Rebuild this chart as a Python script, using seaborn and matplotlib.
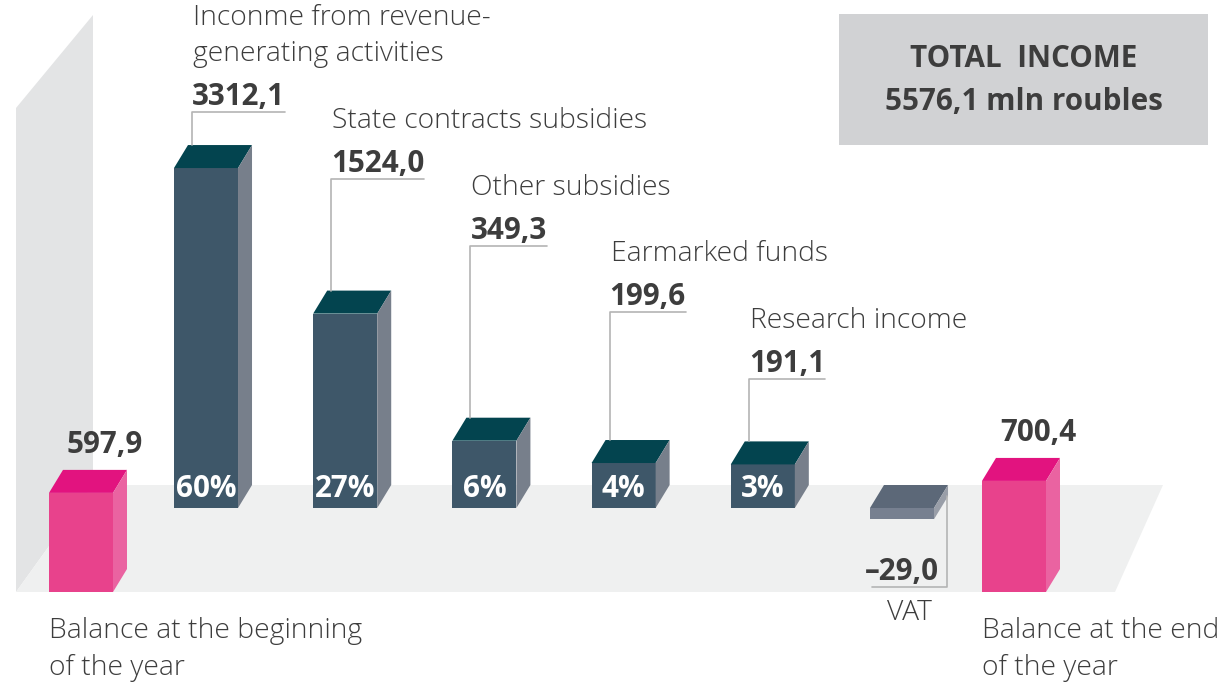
import numpy as np
import pandas as pd
import matplotlib
matplotlib.use('Agg')
import matplotlib.pyplot as plt
from matplotlib.patches import Polygon, Rectangle
import seaborn as sns

sns.set_style('white')
plt.rcParams['font.family'] = ['Open Sans', 'DejaVu Sans']

# --- data (mln roubles) ---
income_items = ['Inconme from revenue-\ngenerating activities', 'State contracts subsidies',
                'Other subsidies', 'Earmarked funds', 'Research income', 'VAT']
income_values = [3312.1, 1524.0, 349.3, 199.6, 191.1, -29.0]
income_shares = ['60%', '27%', '6%', '4%', '3%', '']
balance_items = ['Balance at the beginning\nof the year', 'Balance at the end\nof the year']
balance_values = [597.9, 700.4]
total_title = 'TOTAL  INCOME'
total_text = '5576,1 mln roubles'

# --- styles ---
W, H = 1222, 682
TXT = '#3d3d3d'
FS = 20.3    # regular labels
FSB = 21.3   # bold numbers
DX, DY = 14, 23  # depth of the fake 3d
back_front = ['#3e5769'] * 5 + ['#778090']
back_top = ['#03444f'] * 5 + ['#5c6878']
back_side = ['#777f8b'] * 5 + ['#999ea8']
pink_front, pink_top, pink_side = '#e8428c', '#e2137f', '#ea63a1'

# bars are not to scale in the original, a power scale gets close
P = 0.72
K = 0.993  # px per scaled unit


def fwd(v):
    return np.sign(v) * np.abs(v) ** P


def inv(t):
    return np.sign(t) * np.abs(t) ** (1 / P)


def fmt(v):
    return f'{v:.1f}'.replace('.', ',').replace('-', '–')


fig = plt.figure(figsize=(W / 100, H / 100), dpi=100)
ax_bg = fig.add_axes([0, 0, 1, 1], zorder=0)
ax_back = fig.add_axes([0, 0, 1, 1], zorder=1)
ax_front = fig.add_axes([0, 0, 1, 1], zorder=2)
ax_top = fig.add_axes([0, 0, 1, 1], zorder=3)
for a in (ax_bg, ax_top):
    a.set_xlim(0, W)
    a.set_ylim(H, 0)
for a in (ax_bg, ax_back, ax_front, ax_top):
    a.axis('off')
    a.set_facecolor('none')

# wall and floor
ax_bg.add_patch(Polygon([(16, 592), (16, 108), (93, 15), (93, 485)], color='#e3e4e5', lw=0))
ax_bg.add_patch(Polygon([(16, 592), (93, 485), (1163, 485), (1115, 592)], color='#eff0f0', lw=0))

back_df = pd.DataFrame({'item': income_items, 'value': income_values})
front_df = pd.DataFrame({'item': balance_items, 'value': balance_values})

sns.barplot(data=back_df, x='item', y='value', hue='item', palette=back_front, width=0.46,
            dodge=False, legend=False, errorbar=None, saturation=1, linewidth=0, ax=ax_back)
sns.barplot(data=front_df, x='item', y='value', hue='item', palette=[pink_front] * 2,
            width=64 / 933, dodge=False, legend=False, errorbar=None, saturation=1,
            linewidth=0, ax=ax_front)

# place the two bar rows: back row sits at y=508 px, front row at y=592 px
step = 139.2
ax_back.set_xlim(-206 / step, (W - 206) / step)
ax_front.set_xlim(-81 / 933, (W - 81) / 933)
for a, base in ((ax_back, 508), (ax_front, 592)):
    a.set_yscale('function', functions=(fwd, inv))
    a.set_ylim(inv(-(H - base) / K), inv(base / K))
    a.axis('off')


def to_px(a, x, y):
    d = a.transData.transform((x, y))
    return ax_bg.transData.inverted().transform(d)


def bar_box(a, p):
    x0, y0 = to_px(a, p.get_x(), p.get_y())
    x1, y1 = to_px(a, p.get_x() + p.get_width(), p.get_y() + p.get_height())
    return min(x0, x1), max(x0, x1), min(y0, y1), max(y0, y1)


def add_faces(l, r, t, b, top_c, side_c):
    ax_top.add_patch(Polygon([(l, t), (l + DX, t - DY), (r + DX, t - DY), (r, t)], color=top_c, lw=0))
    ax_top.add_patch(Polygon([(r, t), (r + DX, t - DY), (r + DX, b - DY), (r, b)], color=side_c, lw=0))


renderer = fig.canvas.get_renderer()
line_kw = dict(color='#b4b4b4', lw=1.2)

back_boxes = [bar_box(ax_back, p) for p in ax_back.patches]
for i, (l, r, t, b) in enumerate(back_boxes):
    add_faces(l, r, t, b, back_top[i], back_side[i])
    if income_values[i] < 0:
        continue
    hy = 112 + 66.8 * i
    x0 = l + 18
    val = ax_top.text(x0, hy - 7, fmt(income_values[i]), fontsize=FSB, fontweight='bold',
                      color=TXT, ha='left', va='baseline')
    wv = val.get_window_extent(renderer).width
    ax_top.plot([x0, x0, x0 + wv], [t - DY, hy, hy], **line_kw)
    lines = income_items[i].split('\n')
    for j, ln in enumerate(lines):
        ax_top.text(x0 + 1, hy - 51 - 36 * (len(lines) - 1 - j), ln, fontsize=FS,
                    color=TXT, ha='left', va='baseline', fontweight='light')
    ax_top.text((l + r) / 2, b - 11, income_shares[i], fontsize=FSB, fontweight='bold',
                color='white', ha='center', va='baseline')

# VAT label hangs below the bar
l, r, t, b = back_boxes[-1]
hy = 587
ax_top.plot([r + DX - 1, r + DX - 1, l + 2], [b - DY, hy, hy], **line_kw)
ax_top.text(r + 5, hy - 7, fmt(income_values[-1]), fontsize=FSB, fontweight='bold',
            color=TXT, ha='right', va='baseline')
ax_top.text((l + r + DX) / 2, hy + 33, income_items[-1], fontsize=FS, color=TXT,
            ha='center', va='baseline', fontweight='light')

for i, p in enumerate(ax_front.patches):
    l, r, t, b = bar_box(ax_front, p)
    add_faces(l, r, t, b, pink_top, pink_side)
    ax_top.text(l + 18, t - DY - 17, fmt(balance_values[i]), fontsize=FSB, fontweight='bold',
                color=TXT, ha='left', va='baseline')
    for j, ln in enumerate(balance_items[i].split('\n')):
        ax_top.text(l, 638 + 37 * j, ln, fontsize=FS, color=TXT, ha='left',
                    va='baseline', fontweight='light')

# total box
ax_top.add_patch(Rectangle((839, 14), 369, 131, color='#d1d2d4', lw=0))
ax_top.text(1023.5, 67, total_title, fontsize=FSB, fontweight='bold', color=TXT,
            ha='center', va='baseline')
ax_top.text(1023.5, 110, total_text, fontsize=FSB, fontweight='bold', color=TXT,
            ha='center', va='baseline')

fig.savefig('out.png', dpi=100)
